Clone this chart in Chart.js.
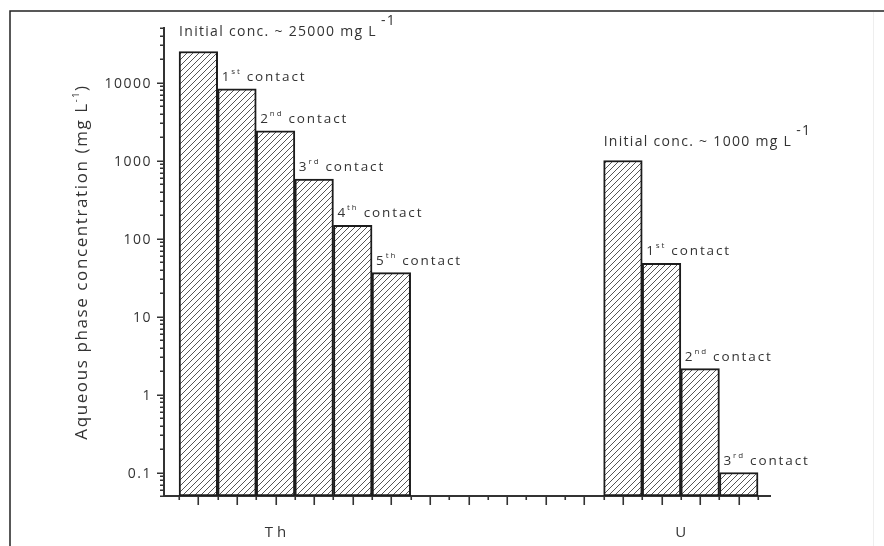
<!DOCTYPE html>
<html>
<head>
<meta charset="utf-8">
<title>Aqueous phase concentration</title>
<script src="https://cdn.jsdelivr.net/npm/chart.js@4.4.1/dist/chart.umd.min.js"></script>
<style>
  html, body { margin: 0; padding: 0; background: #fff; }
</style>
</head>
<body>
<canvas id="concChart" width="884" height="546"></canvas>
<script>
// Th: feed solution then five successive contacts; U: feed then three contacts (mg/L)
const thValues = [25000, 8300, 2400, 580, 148, 36.5];
const uValues = [1000, 48, 2.15, 0.1];
const elements = ['Th', 'U'];
const gapSlots = 5; // empty positions between the Th and U groups
const initialLabels = ['Initial conc. ~ 25000 mg L', 'Initial conc. ~ 1000 mg L'];
const ordinals = [['1', 'st'], ['2', 'nd'], ['3', 'rd'], ['4', 'th'], ['5', 'th']];
const yTickValues = [0.1, 1, 10, 100, 1000, 10000];
const yTickLabels = ['0.1', '1', '10', '100', '1000', '10000'];

const FONT = "'Open Sans', sans-serif";
const TEXT = '#333';

const uStart = thValues.length + gapSlots;
const totalSlots = uStart + uValues.length;

// one bar per slot, label info kept alongside
const points = [];
const pointLabels = [];
[thValues, uValues].forEach((vals, g) => {
    const start = g === 0 ? 0 : uStart;
    vals.forEach((v, i) => {
        points.push({ x: start + i, y: v });
        pointLabels.push(i === 0 ? { initial: initialLabels[g] } : { ord: ordinals[i - 1] });
    });
});

const canvas = document.getElementById('concChart');
const ctx = canvas.getContext('2d');

function makeHatch() {
    const size = 6;
    const c = document.createElement('canvas');
    c.width = size;
    c.height = size;
    const g = c.getContext('2d');
    g.fillStyle = '#fff';
    g.fillRect(0, 0, size, size);
    g.strokeStyle = '#555';
    g.lineWidth = 1;
    g.beginPath();
    g.moveTo(0, size);
    g.lineTo(size, 0);
    g.moveTo(-1, 1);
    g.lineTo(1, -1);
    g.moveTo(size - 1, size + 1);
    g.lineTo(size + 1, size - 1);
    g.stroke();
    return ctx.createPattern(c, 'repeat');
}

// draws a run of text pieces, each with its own size and rise above the baseline
function drawRun(c, parts, x, y, spacing) {
    c.textBaseline = 'alphabetic';
    c.textAlign = 'left';
    c.letterSpacing = spacing + 'px';
    parts.forEach(p => {
        c.font = p.size + 'px ' + FONT;
        c.fillText(p.text, x, y - (p.rise || 0));
        x += c.measureText(p.text).width + (p.gap || 0);
    });
    return x;
}

function runWidth(c, parts, spacing) {
    c.letterSpacing = spacing + 'px';
    let w = 0;
    parts.forEach(p => {
        c.font = p.size + 'px ' + FONT;
        w += c.measureText(p.text).width + (p.gap || 0);
    });
    return w;
}

const decorations = {
    id: 'decorations',
    beforeDraw(chart) {
        const c = chart.ctx;
        c.save();
        c.fillStyle = '#fff';
        c.fillRect(0, 0, chart.width, chart.height);
        // figure frame
        c.strokeStyle = '#222';
        c.lineWidth = 1.5;
        c.beginPath();
        c.moveTo(10, chart.height);
        c.lineTo(10, 11);
        c.lineTo(chart.width, 11);
        c.stroke();
        c.strokeStyle = '#eee';
        c.lineWidth = 1;
        c.beginPath();
        c.moveTo(873.5, 12);
        c.lineTo(873.5, chart.height);
        c.stroke();
        c.restore();
    },
    afterDraw(chart) {
        const c = chart.ctx;
        const xs = chart.scales.x;
        const ys = chart.scales.y;
        const area = chart.chartArea;
        c.save();
        c.strokeStyle = '#333';
        c.fillStyle = TEXT;

        // x ticks: long at bar centres, short at bar edges
        c.lineWidth = 1.6;
        c.beginPath();
        for (let i = 0; i < totalSlots; i++) {
            const px = Math.round(xs.getPixelForValue(i)) + 0.25;
            c.moveTo(px, area.bottom);
            c.lineTo(px, area.bottom + 9);
        }
        for (let i = 0; i <= totalSlots; i++) {
            const px = Math.round(xs.getPixelForValue(i - 0.5)) + 0.25;
            c.moveTo(px, area.bottom);
            c.lineTo(px, area.bottom + 4);
        }
        c.stroke();

        // y ticks: decades long, 2..9 short
        const lo = Math.floor(Math.log10(ys.min));
        const hi = Math.ceil(Math.log10(ys.max));
        c.beginPath();
        for (let e = lo; e <= hi; e++) {
            for (let m = 1; m <= 9; m++) {
                const v = m * Math.pow(10, e);
                if (v < ys.min * 0.999 || v > ys.max * 1.001) continue;
                const py = Math.round(ys.getPixelForValue(v)) + 0.25;
                c.moveTo(area.left, py);
                c.lineTo(area.left - (m === 1 ? 7 : 4), py);
            }
        }
        c.stroke();

        // y tick labels
        c.font = '14px ' + FONT;
        c.letterSpacing = '1.5px';
        c.textAlign = 'right';
        c.textBaseline = 'middle';
        yTickValues.forEach((v, i) => {
            c.fillText(yTickLabels[i], area.left - 12, ys.getPixelForValue(v) + 1);
        });

        // element names under the axis
        c.font = '15px ' + FONT;
        c.letterSpacing = '4px';
        c.textAlign = 'center';
        const nameAt = [2, uStart + (uValues.length - 1) / 2];
        elements.forEach((name, i) => {
            c.fillText(name, xs.getPixelForValue(nameAt[i]) + 2, area.bottom + 37);
        });

        // y axis title, rotated
        const title = [
            { text: 'Aqueous phase concentration (mg L', size: 17 },
            { text: '-1', size: 9, rise: 8 },
            { text: ')', size: 17 }
        ];
        const tw = runWidth(c, title, 1.6);
        c.save();
        c.translate(87, 262);
        c.rotate(-Math.PI / 2);
        drawRun(c, title, -tw / 2, 0, 1.6);
        c.restore();

        // labels above each bar
        const bars = chart.getDatasetMeta(0).data;
        bars.forEach((bar, i) => {
            const info = pointLabels[i];
            const left = bar.x - bar.width / 2;
            if (info.initial) {
                drawRun(c, [
                    { text: info.initial, size: 14, gap: 4 },
                    { text: '-1', size: 14, rise: 11 }
                ], left, bar.y - 15, 1.3);
            } else {
                drawRun(c, [
                    { text: info.ord[0], size: 13.5, gap: 0 },
                    { text: info.ord[1], size: 8, rise: 7, gap: 5 },
                    { text: 'contact', size: 13.5 }
                ], left + 4, bar.y - 8, 1.9);
            }
        });
        c.restore();
    }
};

new Chart(ctx, {
    type: 'bar',
    data: {
        datasets: [{
            data: points,
            backgroundColor: makeHatch(),
            borderColor: '#1c1c1c',
            borderWidth: 2,
            borderSkipped: false,
            barPercentage: 1,
            categoryPercentage: 1
        }]
    },
    options: {
        responsive: false,
        animation: false,
        devicePixelRatio: 1,
        layout: { padding: { top: 28, right: 114, bottom: 0, left: 0 } },
        plugins: {
            legend: { display: false },
            tooltip: { enabled: false }
        },
        scales: {
            x: {
                type: 'linear',
                offset: false,
                min: -0.89,
                max: totalSlots - 0.19,
                grid: { display: false, drawTicks: false, offset: false },
                border: { display: true, color: '#333', width: 2 },
                ticks: { display: false },
                afterFit: s => { s.height = 50; }
            },
            y: {
                type: 'logarithmic',
                min: 0.05,
                max: 50000,
                grid: { display: false, drawTicks: false },
                border: { display: true, color: '#333', width: 2 },
                ticks: { display: false },
                afterFit: s => { s.width = 164; }
            }
        }
    },
    plugins: [decorations]
});
</script>
</body>
</html>
